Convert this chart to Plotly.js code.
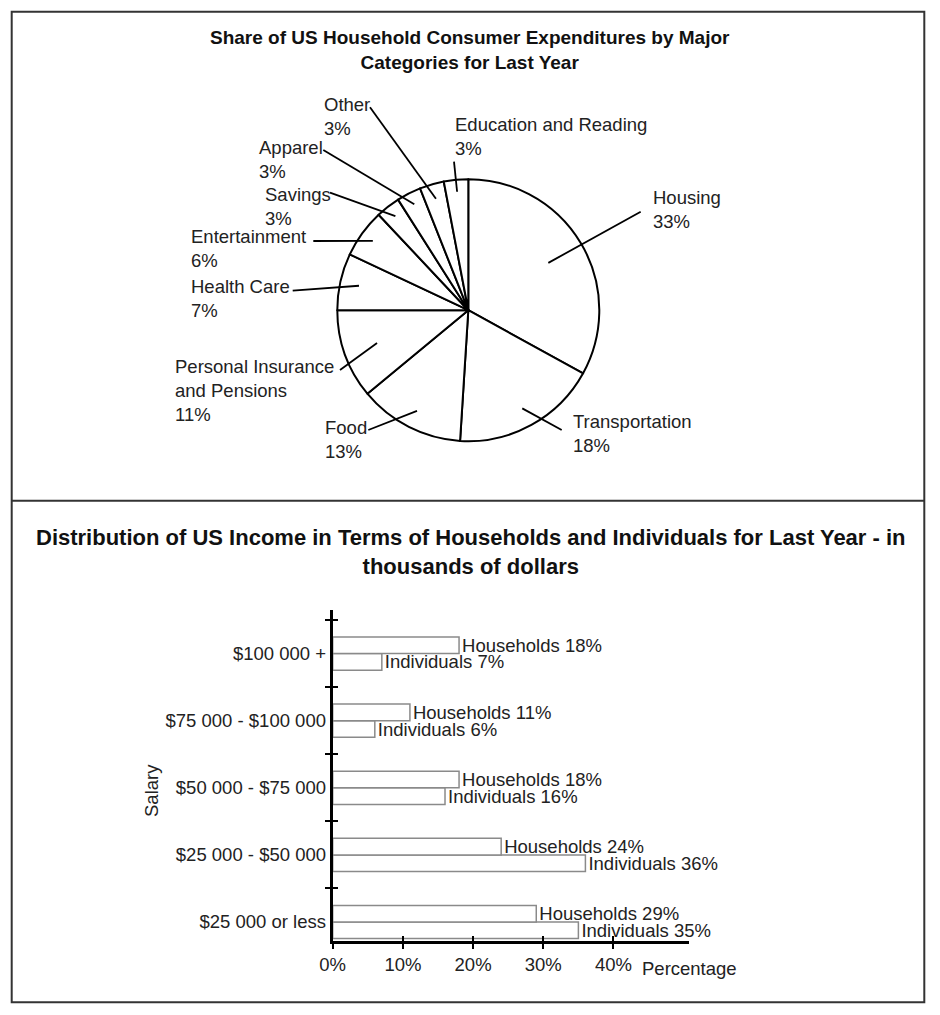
<!DOCTYPE html>
<html><head><meta charset="utf-8">
<script src="https://cdn.plot.ly/plotly-3.0.1.min.js"></script>
<style>html,body{margin:0;padding:0;background:#fff}#chart{width:940px;height:1015px}</style>
</head><body><div id="chart"></div>
<script>
// ---------- data ----------
const pieLabels = ['Housing','Transportation','Food','Personal Insurance and Pensions','Health Care','Entertainment','Savings','Apparel','Other','Education and Reading'];
const pieLabelLines = ['Housing','Transportation','Food','Personal Insurance<br>and Pensions','Health Care','Entertainment','Savings','Apparel','Other','Education and Reading'];
const pieValues = [33,18,13,11,7,6,3,3,3,3];

const salaryCats = ['$25 000 or less','$25 000 - $50 000','$50 000 - $75 000','$75 000 - $100 000','$100 000 +'];
const households = [29,24,18,11,18];
const individuals = [35,36,16,6,7];
const xTickVals = [0,10,20,30,40];
const xTickText = ['0%','10%','20%','30%','40%'];

const topTitle = 'Share of US Household Consumer Expenditures by Major<br>Categories for Last Year';
const bottomTitle = 'Distribution of US Income in Terms of Households and Individuals for Last Year - in<br>thousands of dollars';

// ---------- layout helpers (pixels -> paper) ----------
const W = 940, H = 1015;
const X = px => px / W;
const Y = py => 1 - py / H;
const FONT = '"Liberation Sans", Arial, sans-serif';
const TXT = '#222';

// pie geometry
const pieC = [468.3, 310.2], pieR = 131;
// callout style per slice: inner radius of leader (px), leader end point, text anchor (left, first line centre)
const callouts = [
  {rIn: 93,  end: [640.7, 211.7], text: [650.7, 198.3]},
  {rIn: 112, end: [561.7, 430.0], text: [570.7, 421.7]},
  {rIn: 113, end: [368.3, 430.0], text: [322.7, 428.3]},
  {rIn: 97,  end: [340.0, 370.0], text: [173.3, 366.7]},
  {rIn: 112, end: [292.7, 290.7], text: [189.3, 287.3]},
  {rIn: 118, end: [313.3, 241.0], text: [189.3, 236.7]},
  {rIn: 119, end: [330.0, 192.7], text: [262.7, 195.0]},
  {rIn: 119, end: [323.3, 150.0], text: [257.0, 148.3]},
  {rIn: 116, end: [370.0, 107.3], text: [321.7, 105.0]},
  {rIn: 119, end: [454.0, 161.7], text: [453.3, 125.0]}
];

const total = pieValues.reduce((a, b) => a + b, 0);
const shapes = [];
const annotations = [];
let cum = 0;
pieValues.forEach((v, i) => {
  const mid = (cum + v / 2) / total * 2 * Math.PI;
  cum += v;
  const c = callouts[i];
  const x0 = pieC[0] + c.rIn * Math.sin(mid);
  const y0 = pieC[1] - c.rIn * Math.cos(mid);
  shapes.push({type: 'line', xref: 'paper', yref: 'paper',
    x0: X(x0), y0: Y(y0), x1: X(c.end[0]), y1: Y(c.end[1]),
    line: {color: '#000', width: 1.8}});
  annotations.push({xref: 'paper', yref: 'paper', x: X(c.text[0]), y: Y(c.text[1] - 13),
    xanchor: 'left', yanchor: 'top', align: 'left', showarrow: false,
    text: pieLabelLines[i] + '<br>' + v + '%',
    font: {family: FONT, size: 18.5, color: TXT}});
});

// frame
shapes.push({type: 'rect', xref: 'paper', yref: 'paper', x0: X(11.7), x1: X(924.3), y0: Y(11.7), y1: Y(1002.3),
  line: {color: '#333', width: 2}, fillcolor: 'rgba(0,0,0,0)'});
shapes.push({type: 'line', xref: 'paper', yref: 'paper', x0: X(11.7), x1: X(924.3), y0: Y(500.7), y1: Y(500.7),
  line: {color: '#333', width: 2}});

// titles and axis labels
annotations.push({xref: 'paper', yref: 'paper', x: X(470), y: Y(49.5), xanchor: 'center', yanchor: 'middle',
  showarrow: false, text: '<b>' + topTitle + '</b>', font: {family: FONT, size: 19, color: '#111'}});
annotations.push({xref: 'paper', yref: 'paper', x: X(470.6), y: Y(552), xanchor: 'center', yanchor: 'middle',
  showarrow: false, text: '<b>' + bottomTitle + '</b>', font: {family: FONT, size: 22, color: '#111'}});
annotations.push({xref: 'paper', yref: 'paper', x: X(151), y: Y(791), xanchor: 'center', yanchor: 'middle',
  showarrow: false, textangle: -90, text: 'Salary', font: {family: FONT, size: 18.5, color: TXT}});
annotations.push({xref: 'paper', yref: 'paper', x: X(640), y: Y(968), xanchor: 'left', yanchor: 'middle',
  showarrow: false, text: 'Percentage', font: {family: FONT, size: 18.5, color: TXT}});

// ---------- traces ----------
const pie = {
  type: 'pie', values: pieValues, labels: pieLabels, sort: false, direction: 'clockwise', rotation: 0,
  textinfo: 'none', hoverinfo: 'skip', showlegend: false,
  marker: {colors: pieValues.map(() => '#fff'), line: {color: '#000', width: 2}},
  domain: {x: [X(pieC[0] - pieR), X(pieC[0] + pieR)], y: [Y(pieC[1] + pieR), Y(pieC[1] - pieR)]}
};
const barStyle = {color: '#fff', line: {color: '#8a8a8a', width: 1.5}};
const indTrace = {
  type: 'bar', orientation: 'h', name: 'Individuals', y: salaryCats, x: individuals,
  text: individuals.map(v => 'Individuals ' + v + '%'), textposition: 'outside', cliponaxis: false,
  constraintext: 'none', textfont: {family: FONT, size: 18.5, color: TXT},
  marker: barStyle, hoverinfo: 'skip', showlegend: false, xaxis: 'x', yaxis: 'y'
};
const hhTrace = Object.assign({}, indTrace, {
  name: 'Households', x: households, text: households.map(v => 'Households ' + v + '%')
});
const ghostX = {type: 'scatter', x: [], y: [], xaxis: 'x2', yaxis: 'y', showlegend: false, hoverinfo: 'skip'};
const ghostY = {type: 'scatter', x: [], y: [], xaxis: 'x', yaxis: 'y2', showlegend: false, hoverinfo: 'skip'};

const yRange = [-0.279, 4.65];
const xRange = [0, 50.8];
const xDom = [X(332.7), X(689.3)];
const yDom = [Y(940.7), Y(610)];

const layout = {
  width: W, height: H, margin: {l: 0, r: 0, t: 0, b: 0},
  paper_bgcolor: '#fff', plot_bgcolor: 'rgba(0,0,0,0)',
  font: {family: FONT, color: TXT},
  barmode: 'group', bargap: 0.505, bargroupgap: 0,
  xaxis: {domain: xDom, range: xRange, anchor: 'y', showline: true, linewidth: 3, linecolor: '#000',
    ticks: 'outside', ticklen: 5, tickwidth: 2, tickcolor: '#000', tickvals: xTickVals, ticktext: xTickText,
    tickfont: {family: FONT, size: 18.5, color: TXT}, showgrid: false, zeroline: false, fixedrange: true},
  xaxis2: {domain: xDom, range: xRange, overlaying: 'x', anchor: 'y', side: 'bottom', showline: false,
    ticks: 'inside', ticklen: 5, tickwidth: 2, tickcolor: '#000', tickvals: xTickVals,
    showticklabels: false, showgrid: false, zeroline: false, fixedrange: true},
  yaxis: {domain: yDom, type: 'category', categoryarray: salaryCats, categoryorder: 'array', range: yRange,
    anchor: 'x', showline: true, linewidth: 3, linecolor: '#000', ticks: 'outside', tickson: 'boundaries',
    ticklen: 5, tickwidth: 2, tickcolor: '#000', tickfont: {family: FONT, size: 18.5, color: TXT},
    showgrid: false, zeroline: false, fixedrange: true},
  yaxis2: {domain: yDom, range: yRange, overlaying: 'y', anchor: 'x', side: 'left', type: 'linear',
    ticks: 'inside', ticklen: 5, tickwidth: 2, tickcolor: '#000',
    tickvals: salaryCats.map((_, i) => i + 0.5), showticklabels: false, showline: false,
    showgrid: false, zeroline: false, fixedrange: true},
  shapes: shapes, annotations: annotations
};

Plotly.newPlot('chart', [pie, indTrace, hhTrace, ghostX, ghostY], layout, {displayModeBar: false, staticPlot: true});
</script></body></html>
